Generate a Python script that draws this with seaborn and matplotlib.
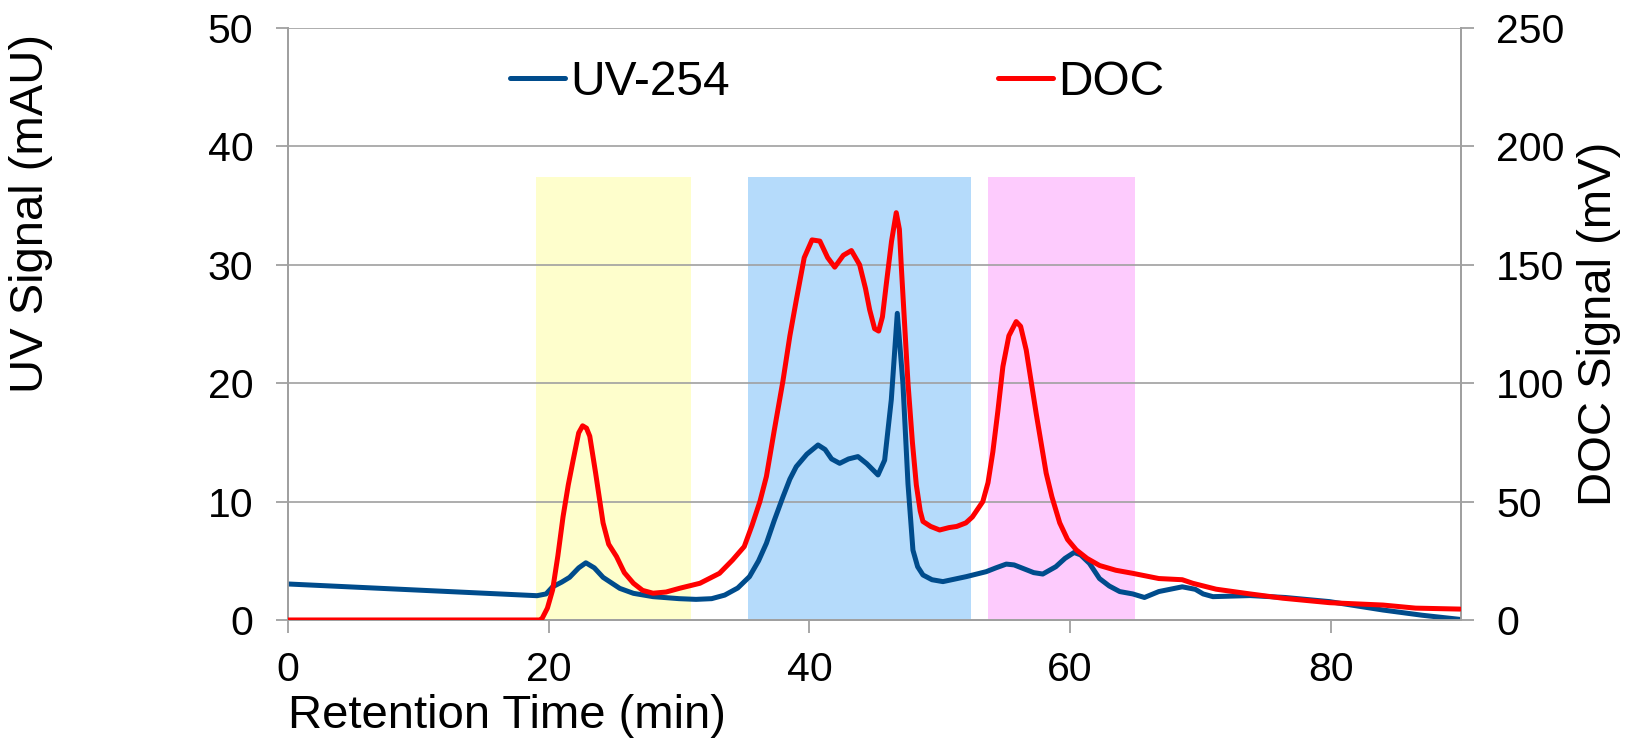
import numpy as np
import pandas as pd
import matplotlib
matplotlib.use("Agg")
import matplotlib.pyplot as plt
import seaborn as sns

# ---- data ----
uv_time = [0, 19.1, 19.8, 20.3, 21.0, 21.6, 22.3, 22.85, 23.5, 24.17, 25.45, 26.5, 28.0, 30.0, 31.3,
           32.5, 33.5, 34.5, 35.4, 36.1, 36.7, 37.3, 37.97, 38.5, 38.99, 39.8, 40.66, 41.2, 41.7,
           42.32, 43.0, 43.72, 44.4, 45.26, 45.77, 46.28, 46.74, 47.17, 47.56, 47.94, 48.3, 48.71,
           49.4, 50.24, 52.03, 53.56, 54.3, 55.1, 55.7, 56.37, 57.2, 57.9, 58.9, 59.6, 60.3, 60.8,
           61.48, 62.25, 63.0, 63.8, 64.8, 65.7, 66.8, 68.6, 69.6, 70.2, 70.95, 73.8, 76.5, 79.9,
           84.0, 87.0, 89.9]
uv_signal = [3.04, 2.05, 2.2, 2.8, 3.2, 3.6, 4.4, 4.83, 4.4, 3.6, 2.67, 2.25, 1.97, 1.8, 1.74,
             1.8, 2.1, 2.7, 3.66, 5.0, 6.48, 8.4, 10.4, 11.9, 12.95, 14.0, 14.78, 14.4, 13.6,
             13.23, 13.6, 13.8, 13.2, 12.25, 13.5, 18.6, 25.9, 20.0, 11.5, 5.9, 4.5, 3.8,
             3.4, 3.24, 3.66, 4.08, 4.4, 4.72, 4.65, 4.36, 4.0, 3.88, 4.5, 5.2, 5.7, 5.5,
             4.78, 3.5, 2.87, 2.4, 2.2, 1.9, 2.4, 2.8, 2.59, 2.2, 1.97, 2.06, 1.9, 1.55,
             0.84, 0.4, 0.05]

doc_time = [0, 19.3, 19.5, 19.9, 20.3, 20.7, 21.1, 21.5, 21.87, 22.3, 22.6, 22.9, 23.15, 23.6, 24.17,
            24.6, 25.2, 25.8, 26.5, 27.2, 28.0, 29.0, 30.05, 31.6, 33.1, 34.1, 35.0, 35.6, 36.2,
            36.7, 37.3, 37.97, 38.5, 38.99, 39.6, 40.2, 40.8, 41.4, 41.94, 42.6, 43.22, 43.85,
            44.3, 44.62, 45.0, 45.31, 45.6, 45.9, 46.3, 46.66, 46.9, 47.05, 47.3, 47.56, 47.9,
            48.2, 48.5, 48.71, 49.3, 49.99, 50.7, 51.3, 52.0, 52.5, 53.3, 53.7, 54.07, 54.45,
            54.84, 55.3, 55.86, 56.2, 56.63, 57.0, 57.4, 58.16, 58.6, 59.2, 59.8, 60.47, 61.3,
            62.26, 63.5, 64.8, 66.8, 68.6, 69.4, 71.2, 73.8, 76.3, 79.9, 84.0, 86.5, 89.9]
doc_signal = [0, 0, 0.7, 5, 12.7, 27, 43.6, 57, 67.4, 79, 82, 81, 77.6, 62, 41,
              32, 26.8, 20, 15.5, 12.5, 11.3, 11.8, 13.4, 15.5, 19.7, 25.3, 31, 40, 50,
              60.6, 80, 101, 120, 135, 153, 160.5, 160, 153, 149, 154, 156, 150,
              140, 131, 123, 122, 128, 142, 160, 172, 165, 149, 125, 100, 75,
              57, 46, 41.6, 39.5, 38, 39, 39.5, 41, 43.5, 50, 58, 71, 88,
              107, 120, 126, 124, 114, 101, 87, 62, 52, 41, 34, 29.6, 26,
              23, 21, 19.7, 17.5, 17, 15.5, 13, 11, 9.2, 7.3, 6.3, 5, 4.6]

band_start = [19.0, 35.3, 53.7]
band_end = [30.9, 52.4, 65.0]
band_top = 37.4
band_colors = ["#FEFECC", "#B5DBFB", "#FDCBFD"]

uv_df = pd.DataFrame({"time": uv_time, "signal": uv_signal})
doc_df = pd.DataFrame({"time": doc_time, "signal": doc_signal})

# ---- style ----
sns.set_style("white")
plt.rcParams["font.family"] = ["Liberation Sans", "DejaVu Sans"]
plt.rcParams["text.color"] = "black"
plt.rcParams["axes.labelcolor"] = "black"
plt.rcParams["xtick.color"] = "black"
plt.rcParams["ytick.color"] = "black"
TICK_FS = 29.5
LABEL_FS = 34
LEG_FS = 34.5
grey = "#A0A0A0"

fig, ax = plt.subplots(figsize=(16.4, 7.44), dpi=100)
fig.subplots_adjust(left=0.1756, right=0.891, bottom=0.1667, top=0.9624)
ax2 = ax.twinx()

for s, e, c in zip(band_start, band_end, band_colors):
    ax.fill_between([s, e], 0, band_top, color=c, linewidth=0, zorder=0.3)

ax.set_axisbelow(True)
ax.yaxis.grid(True, color=grey, linewidth=1.2)
ax.xaxis.grid(False)

sns.lineplot(data=uv_df, x="time", y="signal", ax=ax, color="#004C8C", linewidth=3.6,
             label="UV-254", legend=False, zorder=3)
sns.lineplot(data=doc_df, x="time", y="signal", ax=ax2, color="#FF0000", linewidth=3.6,
             label="DOC", legend=False, zorder=3)

ax.set_xlim(0, 90)
ax.set_ylim(0, 50)
ax2.set_ylim(0, 250)
ax.set_xticks([0, 20, 40, 60, 80])
ax.set_yticks([0, 10, 20, 30, 40, 50])
ax2.set_yticks([0, 50, 100, 150, 200, 250])

for a in (ax, ax2):
    for sp in a.spines.values():
        sp.set_color(grey)
        sp.set_linewidth(1.3)
    a.spines["top"].set_visible(False)
    a.tick_params(axis="both", which="major", labelsize=TICK_FS, length=9, width=1.3,
                  color=grey, labelcolor="black", direction="out")
ax.tick_params(axis="y", left=True, pad=16)
ax.tick_params(axis="x", bottom=True, pad=13)
ax2.tick_params(axis="y", right=True, pad=16)

ax.set_xlabel("Retention Time (min)", fontsize=LABEL_FS, loc="left")
ax.xaxis.set_label_coords(0.0, -0.125)
ax.set_ylabel("UV Signal (mAU)", fontsize=LABEL_FS)
ax.yaxis.set_label_coords(-0.200, 0.686)
ax2.set_ylabel("DOC Signal (mV)", fontsize=LABEL_FS)
ax2.yaxis.set_label_coords(1.099, 0.5)

h1, l1 = ax.get_legend_handles_labels()
h2, l2 = ax2.get_legend_handles_labels()
leg = ax2.legend(h1 + h2, l1 + l2, loc="center", bbox_to_anchor=(0.468, 0.908), ncol=2,
                 frameon=False, fontsize=LEG_FS, handlelength=1.15, handletextpad=0.1,
                 columnspacing=5.6, borderpad=0, borderaxespad=0)

fig.savefig("out.png", dpi=100)
